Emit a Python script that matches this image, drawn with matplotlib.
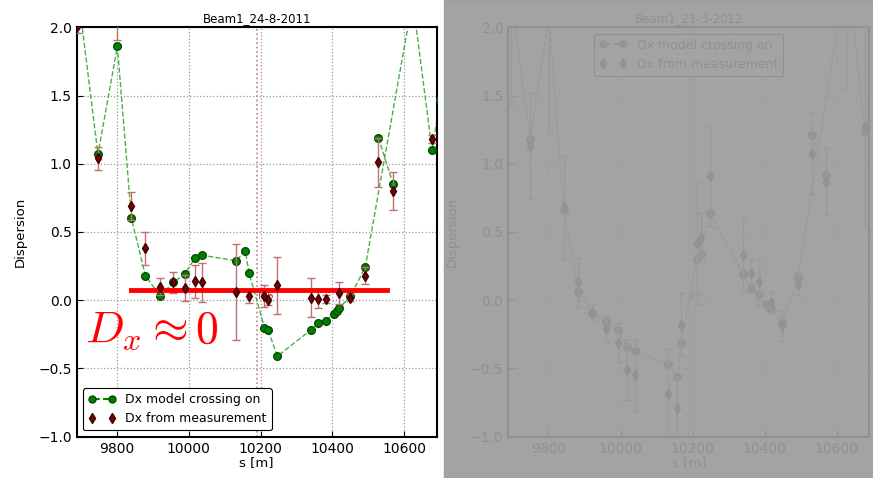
import numpy as np
import matplotlib
matplotlib.use('Agg')
import matplotlib.pyplot as plt
from matplotlib.patches import Rectangle

plt.rcParams['mathtext.fontset'] = 'cm'

# ---- Beam1_24-8-2011 ----
titles = ['Beam1_24-8-2011', 'Beam1_21-3-2012']

s_mod_a = [9693, 9748, 9802, 9841, 9880, 9921, 9956, 9989, 10018, 10037, 10131, 10158, 10168,
           10211, 10221, 10247, 10339, 10361, 10382, 10404, 10413, 10418, 10450, 10491, 10623,
           10677, 10700, np.nan, 10528, 10569]
d_mod_a = [2.24, 1.07, 1.86, 0.60, 0.18, 0.03, 0.13, 0.19, 0.31, 0.33, 0.29, 0.36, 0.20,
           -0.20, -0.22, -0.41, -0.22, -0.17, -0.15, -0.10, -0.08, -0.06, 0.03, 0.24, 2.20,
           1.10, 1.47, np.nan, 1.19, 0.85]

s_meas_a = [9693, 9748, 9802, 9841, 9880, 9921, 9956, 9989, 10018, 10037, 10131, 10168, 10211,
            10221, 10247, 10339, 10361, 10382, 10418, 10450, 10491, 10528, 10569, 10677]
d_meas_a = [2.02, 1.04, 2.05, 0.69, 0.38, 0.10, 0.13, 0.09, 0.14, 0.13, 0.06, 0.03, 0.03,
            0.00, 0.11, 0.02, 0.01, 0.01, 0.05, 0.02, 0.18, 1.01, 0.80, 1.18]
e_meas_a = [0.06, 0.085, 0.14, 0.10, 0.12, 0.06, 0.08, 0.095, 0.12, 0.14, 0.355, 0.05, 0.08,
            0.035, 0.21, 0.14, 0.065, 0.03, 0.08, 0.025, 0.06, 0.18, 0.14, 0.03]

# ---- Beam1_21-3-2012 ----
s_mod_b = [9693, 9749, 9802, 9842, 9883, 9922, 9959, 9992, 10019, 10039, 10132, 10158, 10169,
           10211, 10222, 10248, 10341, 10362, 10383, 10405, 10411, 10416, 10448, 10492, 10629,
           10677, 10700, np.nan, 10530, 10569]
d_mod_b = [2.30, 1.18, 2.08, 0.66, 0.063, -0.09, -0.16, -0.22, -0.345, -0.37, -0.47, -0.565, -0.31,
           0.30, 0.34, 0.64, 0.19, 0.09, 0.044, -0.03, -0.05, -0.06, -0.17, 0.17, 2.47,
           1.23, 1.60, np.nan, 1.21, 0.92]

s_meas_b = [9696, 9749, 9803, 9842, 9883, 9922, 9959, 9992, 10019, 10039, 10132, 10158, 10169,
            10211, 10222, 10248, 10341, 10362, 10383, 10416, 10448, 10492, 10530, 10569, 10624, 10677]
d_meas_b = [2.20, 1.13, 2.10, 0.68, 0.13, -0.09, -0.21, -0.31, -0.51, -0.55, -0.69, -0.79, -0.18,
            0.42, 0.46, 0.91, 0.33, 0.20, 0.13, -0.015, -0.19, 0.12, 1.07, 0.87, 2.30, 1.27]
e_meas_b = [0.77, 0.39, 0.86, 0.38, 0.18, 0.055, 0.095, 0.14, 0.22, 0.26, 0.33, 0.23, 0.23,
            0.45, 0.18, 0.37, 0.27, 0.105, 0.175, 0.075, 0.11, 0.08, 0.30, 0.245, 0.75, 0.73]

ip5_s = 10190
mean_line_s = [9840, 10552]
mean_line_d = 0.075

fig = plt.figure(figsize=(8.73, 4.78), dpi=100)
ax1 = fig.add_axes([0.0879, 0.0864, 0.4124, 0.8565])
ax2 = fig.add_axes([0.5823, 0.0864, 0.4135, 0.8565])

data = [(ax1, s_mod_a, d_mod_a, s_meas_a, d_meas_a, e_meas_a, 'lower left'),
        (ax2, s_mod_b, d_mod_b, s_meas_b, d_meas_b, e_meas_b, 'upper center')]

for i, (ax, sm, dm, sx, dx, ex, loc) in enumerate(data):
    ax.axvline(ip5_s, color='#c08080', ls=':', lw=1.2, zorder=1)
    ax.text(ip5_s + 2, 0.03, 'IP5', color='#a04040', fontsize=8, va='center', ha='left', zorder=1)
    ax.plot(sm, dm, '--', color='#4cae4c', lw=1, zorder=2)
    ax.plot(sm, dm, 'o', color='green', mec='#004d00', ms=5.5, zorder=3)
    ax.errorbar(sx, dx, yerr=ex, fmt='none', ecolor='#c07070', elinewidth=1, capsize=3, zorder=4)
    ax.plot(sx, dx, 'd', color='#7a0000', mec='#3a0000', ms=5, zorder=5)
    # proxies for the legend
    h1, = ax.plot([], [], 'o--', color='green', mfc='green', mec='#004d00', ms=5,
                  label='Dx model crossing on')
    h2, = ax.plot([], [], 'd', color='#7a0000', mec='#3a0000', ms=5, ls='none',
                  label='Dx from measurement')
    leg = ax.legend(handles=[h1, h2], loc=loc, numpoints=2, fontsize=9, fancybox=True,
                    framealpha=1, edgecolor='black', borderpad=0.4, handlelength=2.2)
    leg.get_frame().set_linewidth(0.8)
    ax.set_xlim(9689, 10690)
    ax.set_ylim(-1.0, 2.0)
    ax.set_xticks([9800, 10000, 10200, 10400, 10600])
    ax.set_yticks([-1.0, -0.5, 0.0, 0.5, 1.0, 1.5, 2.0])
    ax.grid(True, ls=':', color='#999999', lw=0.9)
    ax.tick_params(direction='in', labelsize=10, length=4)
    for sp in ax.spines.values():
        sp.set_linewidth(1.5)
    ax.set_title(titles[i], fontsize=8.5, pad=4)
    ax.set_xlabel('s [m]', fontsize=9.5, labelpad=0)
    ax.set_ylabel('Dispersion', fontsize=9.5, labelpad=8)

ax1.plot(mean_line_s, [mean_line_d, mean_line_d], color='red', lw=3.5, zorder=4.5)
ax1.text(9713, -0.22, r'$D_x \approx 0$', color='red', fontsize=33, va='center', ha='left', zorder=7)

# grey veil on the 2012 panel
fig.add_artist(Rectangle((444 / 873, 0), 1, 1, transform=fig.transFigure,
                         color=(0.61, 0.61, 0.61), alpha=0.93, zorder=100))

fig.savefig('out.png', dpi=100)
